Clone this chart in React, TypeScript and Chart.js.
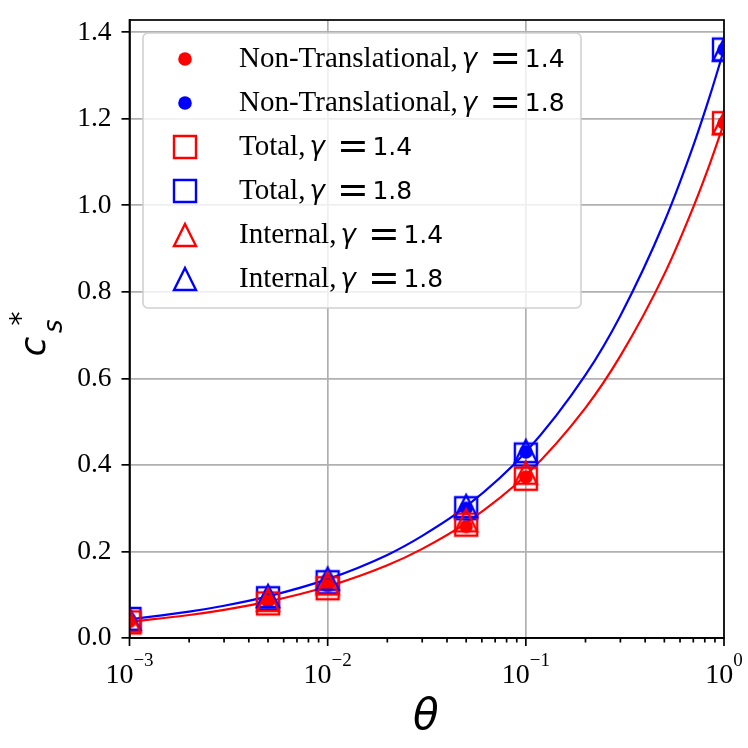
import { useEffect, useRef } from 'react';
import { Chart, registerables } from 'chart.js';

Chart.register(...registerables);

// measured points
const thetaPoints = [0.001, 0.005, 0.01, 0.05, 0.1, 1];
const nonTrans14 = [0.038, 0.085, 0.121, 0.258, 0.372, 1.19];
const nonTrans18 = [0.043, 0.092, 0.133, 0.3, 0.43, 1.36];
const total14 = [0.036, 0.08, 0.115, 0.262, 0.368, 1.19];
const total18 = [0.044, 0.092, 0.129, 0.3, 0.424, 1.36];
const internal14 = [0.04, 0.088, 0.126, 0.272, 0.382, 1.19];
const internal18 = [0.044, 0.097, 0.137, 0.305, 0.432, 1.36];

// fitted curves
const curveTheta = [0.001, 0.002, 0.003, 0.005, 0.01, 0.02, 0.03, 0.05, 0.1, 0.2, 0.3, 0.5, 0.7, 0.85, 1];
const curve14 = [0.0376, 0.0532, 0.0652, 0.0841, 0.119, 0.168, 0.206, 0.266, 0.376, 0.532, 0.652, 0.841, 0.996, 1.097, 1.19];
const curve18 = [0.043, 0.0608, 0.0745, 0.0962, 0.136, 0.192, 0.236, 0.304, 0.43, 0.608, 0.745, 0.962, 1.138, 1.254, 1.36];

const xMajorTicks = [0.001, 0.01, 0.1, 1];
const xTickExponents = ['\u22123', '\u22122', '\u22121', '0'];
const yTicks = [0, 0.2, 0.4, 0.6, 0.8, 1.0, 1.2, 1.4];

const seriesNames = ['Non-Translational', 'Non-Translational', 'Total', 'Total', 'Internal', 'Internal'];
const gammas = ['1.4', '1.8', '1.4', '1.8', '1.4', '1.8'];

const RED = '#ff0000';
const BLUE = '#0000ff';
const SERIF = '"Liberation Serif", "Times New Roman", serif';
const SANS = '"DejaVu Sans", sans-serif';

function makeMarker(shape: 'square' | 'triangle' | 'dot', color: string) {
  const s = 30;
  const c = document.createElement('canvas');
  c.width = s;
  c.height = s;
  const g = c.getContext('2d')!;
  const m = s / 2;
  const h = 11;
  g.strokeStyle = color;
  g.fillStyle = color;
  g.lineWidth = 2.4;
  g.lineJoin = 'miter';
  g.beginPath();
  if (shape === 'square') {
    g.rect(m - h, m - h, 2 * h, 2 * h);
    g.stroke();
  } else if (shape === 'triangle') {
    g.moveTo(m, m - h);
    g.lineTo(m + h, m + h);
    g.lineTo(m - h, m + h);
    g.closePath();
    g.stroke();
  } else {
    g.arc(m, m, 6.8, 0, Math.PI * 2);
    g.fill();
  }
  return c;
}

function drawCentered(ctx: CanvasRenderingContext2D, text: string, font: string, cx: number, cy: number) {
  ctx.font = font;
  ctx.textAlign = 'left';
  ctx.textBaseline = 'alphabetic';
  const m = ctx.measureText(text);
  const w = m.actualBoundingBoxLeft + m.actualBoundingBoxRight;
  const h = m.actualBoundingBoxAscent + m.actualBoundingBoxDescent;
  ctx.fillText(text, cx - w / 2 + m.actualBoundingBoxLeft, cy - h / 2 + m.actualBoundingBoxAscent);
}

export default function App() {
  const chartRef = useRef<HTMLCanvasElement>(null);
  const chartInstance = useRef<Chart | null>(null);

  useEffect(() => {
    document.body.style.margin = '0';
    if (!chartRef.current) return;
    chartInstance.current?.destroy();
    const ctx = chartRef.current.getContext('2d');
    if (!ctx) return;

    const markers = [
      makeMarker('dot', RED), makeMarker('dot', BLUE),
      makeMarker('square', RED), makeMarker('square', BLUE),
      makeMarker('triangle', RED), makeMarker('triangle', BLUE),
    ];
    const pointSeries = [nonTrans14, nonTrans18, total14, total18, internal14, internal18];
    const orders = [3, 3, 2, 2, 1, 1];

    const pointDatasets = pointSeries.map((vals, i) => ({
      label: `${seriesNames[i]}, γ = ${gammas[i]}`,
      data: thetaPoints.map((t, j) => ({ x: t, y: vals[j] })),
      pointStyle: markers[i] as any,
      pointRadius: 12,
      showLine: false,
      clip: 0,
      order: orders[i],
    }));

    const curveDataset = (vals: number[], color: string) => ({
      label: '',
      data: curveTheta.map((t, j) => ({ x: t, y: vals[j] })),
      showLine: true,
      borderColor: color,
      borderWidth: 2.2,
      pointRadius: 0,
      cubicInterpolationMode: 'monotone' as const,
      clip: 0,
      order: 4,
    });

    const decor = {
      id: 'decor',
      afterDraw(chart: Chart) {
        const c = chart.ctx;
        const a = chart.chartArea;
        const xs = chart.scales.x;
        c.save();
        // spines
        c.strokeStyle = '#000';
        c.lineWidth = 1.7;
        c.strokeRect(a.left, a.top, a.right - a.left, a.bottom - a.top);

        // x ticks, major and minor
        c.beginPath();
        xMajorTicks.forEach((v, i) => {
          const px = xs.getPixelForValue(v);
          c.moveTo(px, a.bottom);
          c.lineTo(px, a.bottom + 8);
          if (i < xMajorTicks.length - 1) {
            for (let k = 2; k <= 9; k++) {
              const mx = xs.getPixelForValue(v * k);
              c.moveTo(mx, a.bottom);
              c.lineTo(mx, a.bottom + 4.5);
            }
          }
        });
        c.stroke();

        // x tick labels 10^n
        c.fillStyle = '#000';
        c.textBaseline = 'alphabetic';
        c.textAlign = 'left';
        xMajorTicks.forEach((v, i) => {
          const px = xs.getPixelForValue(v);
          c.font = `28px ${SERIF}`;
          const w1 = c.measureText('10').width;
          c.font = `19px ${SERIF}`;
          const w2 = c.measureText(xTickExponents[i]).width;
          const x0 = px - (w1 + w2) / 2;
          c.font = `28px ${SERIF}`;
          c.fillText('10', x0, 683);
          c.font = `19px ${SERIF}`;
          c.fillText(xTickExponents[i], x0 + w1, 666);
        });

        // axis titles
        drawCentered(c, 'θ', `italic 42px ${SANS}`, 425.5, 713);
        const glyphs: [string, string, number, number][] = [
          ['c', `italic 36px ${SANS}`, 35, 346],
          ['s', `italic 26px ${SANS}`, 54.5, 326.5],
          ['*', `28px ${SANS}`, 15.5, 318.5],
        ];
        glyphs.forEach(([t, f, gx, gy]) => {
          c.save();
          c.translate(gx, gy);
          c.rotate(-Math.PI / 2);
          drawCentered(c, t, f, 0, 0);
          c.restore();
        });

        // legend
        const lx = 143, ly = 33, lw = 438, lh = 275, r = 5;
        c.beginPath();
        c.moveTo(lx + r, ly);
        c.arcTo(lx + lw, ly, lx + lw, ly + lh, r);
        c.arcTo(lx + lw, ly + lh, lx, ly + lh, r);
        c.arcTo(lx, ly + lh, lx, ly, r);
        c.arcTo(lx, ly, lx + lw, ly, r);
        c.closePath();
        c.fillStyle = 'rgba(255,255,255,0.8)';
        c.fill();
        c.strokeStyle = 'rgba(204,204,204,0.9)';
        c.lineWidth = 1.6;
        c.stroke();

        seriesNames.forEach((name, i) => {
          const cy = 59 + i * 44;
          const mk = markers[i];
          c.drawImage(mk, 185 - mk.width / 2, cy - mk.height / 2);
          c.fillStyle = '#000';
          c.textAlign = 'left';
          c.textBaseline = 'alphabetic';
          const base = cy + 8;
          c.font = `29px ${SERIF}`;
          const t1 = `${name},`;
          c.fillText(t1, 239, base);
          const gx = 239 + c.measureText(t1).width + 4;
          c.font = `italic 26px ${SANS}`;
          c.fillText('γ', gx, base);
          drawCentered(c, '=', `38px ${SANS}`, gx + 43.5, cy - 1);
          c.font = `25px ${SANS}`;
          c.fillText(gammas[i], gx + 63, base);
        });
        c.restore();
      },
    };

    chartInstance.current = new Chart(ctx, {
      type: 'scatter',
      data: {
        datasets: [
          ...pointDatasets,
          curveDataset(curve14, RED),
          curveDataset(curve18, BLUE),
        ] as any,
      },
      options: {
        animation: false,
        responsive: false,
        events: [],
        layout: { padding: { top: 20, right: 24, left: 0, bottom: 0 } },
        plugins: {
          legend: { display: false },
          tooltip: { enabled: false },
        },
        scales: {
          x: {
            type: 'logarithmic',
            min: 0.001,
            max: 1,
            afterBuildTicks: (scale: any) => {
              scale.ticks = xMajorTicks.map(v => ({ value: v, major: true }));
            },
            afterFit: (scale: any) => {
              scale.height = 110;
              scale.paddingLeft = 0;
              scale.paddingRight = 0;
            },
            ticks: { display: false },
            grid: { color: '#b0b0b0', lineWidth: 1.7, drawTicks: false },
            border: { color: '#000', width: 1.7 },
          },
          y: {
            type: 'linear',
            min: 0,
            max: 1.4284,
            afterBuildTicks: (scale: any) => {
              scale.ticks = yTicks.map(v => ({ value: v }));
            },
            afterFit: (scale: any) => {
              scale.width = 129.5;
              scale.paddingTop = 0;
              scale.paddingBottom = 0;
            },
            ticks: {
              callback: (v: any) => Number(v).toFixed(1),
              font: { family: SERIF, size: 27.5 },
              color: '#000',
              padding: 10,
            },
            grid: {
              color: '#b0b0b0',
              lineWidth: 1.7,
              tickColor: '#000',
              tickLength: 8,
              tickWidth: 1.7,
            },
            border: { color: '#000', width: 1.7 },
          },
        },
      },
      plugins: [decor],
    });

    return () => {
      chartInstance.current?.destroy();
      chartInstance.current = null;
    };
  }, []);

  return (
    <div style={{ width: 748, height: 748, background: '#fff' }}>
      <canvas ref={chartRef} width={748} height={748} style={{ display: 'block' }} />
    </div>
  );
}
